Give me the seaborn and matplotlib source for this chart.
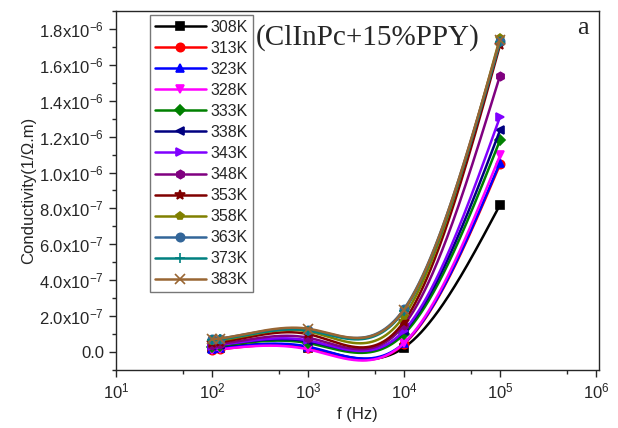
import numpy as np
import pandas as pd
import matplotlib
matplotlib.use("Agg")
import matplotlib.pyplot as plt
from matplotlib.lines import Line2D
from matplotlib.ticker import FixedLocator, FuncFormatter, MultipleLocator
import seaborn as sns

# frequencies (Hz)
freq = [100, 120, 1000, 10000, 100000]
temps = ["308K", "313K", "323K", "328K", "333K", "338K", "343K",
         "348K", "353K", "358K", "363K", "373K", "383K"]

# conductivity values, in units of 1e-7 (1/Ohm.m)
s308 = [0.20, 0.25, 0.25, 0.25, 8.20]
s313 = [0.10, 0.15, 0.20, 0.45, 10.45]
s323 = [0.15, 0.20, 0.30, 0.50, 10.55]
s328 = [0.10, 0.15, 0.15, 0.50, 10.95]
s333 = [0.30, 0.35, 0.50, 1.00, 11.80]
s338 = [0.35, 0.40, 0.60, 1.15, 12.35]
s343 = [0.35, 0.40, 0.65, 1.20, 13.10]
s348 = [0.40, 0.45, 0.80, 1.50, 15.40]
s353 = [0.50, 0.55, 1.00, 1.70, 17.10]
s358 = [0.60, 0.65, 1.15, 2.00, 17.50]
s363 = [0.70, 0.75, 1.25, 2.40, 17.30]
s373 = [0.65, 0.70, 1.20, 2.30, 17.25]
s383 = [0.70, 0.75, 1.30, 2.35, 17.40]
series = [s308, s313, s323, s328, s333, s338, s343,
          s348, s353, s358, s363, s373, s383]

colors = ["#000000", "#FF0000", "#0000FF", "#FF00FF", "#008000", "#000080",
          "#8000FF", "#800080", "#800000", "#808000", "#336699", "#008080", "#996633"]
markers = ["s", "o", "^", "v", "D", "<", ">", "h", "*", "p", "o", "+", "x"]
msizes = [6, 6, 6, 6, 5, 6, 6, 6, 7, 6, 6, 7, 7]


def natural_spline(x, y, n=300):
    # natural cubic spline, used only to draw the connecting line
    x = np.asarray(x, float)
    y = np.asarray(y, float)
    k = len(x)
    h = np.diff(x)
    A = np.zeros((k, k))
    b = np.zeros(k)
    A[0, 0] = A[-1, -1] = 1
    for i in range(1, k - 1):
        A[i, i - 1] = h[i - 1]
        A[i, i] = 2 * (h[i - 1] + h[i])
        A[i, i + 1] = h[i]
        b[i] = 6 * ((y[i + 1] - y[i]) / h[i] - (y[i] - y[i - 1]) / h[i - 1])
    M = np.linalg.solve(A, b)
    xs = np.linspace(x[0], x[-1], n)
    ys = np.empty_like(xs)
    for j, t in enumerate(xs):
        i = min(np.searchsorted(x, t, side="right") - 1, k - 2)
        a, c = x[i], x[i + 1]
        hh = c - a
        ys[j] = (M[i] * (c - t) ** 3 / (6 * hh) + M[i + 1] * (t - a) ** 3 / (6 * hh)
                 + (y[i] / hh - M[i] * hh / 6) * (c - t)
                 + (y[i + 1] / hh - M[i + 1] * hh / 6) * (t - a))
    return xs, ys


sns.set_style("ticks")
plt.rcParams["font.family"] = ["Liberation Sans", "DejaVu Sans"]
plt.rcParams["mathtext.fontset"] = "custom"
plt.rcParams["mathtext.rm"] = "Liberation Sans"
plt.rcParams["mathtext.it"] = "Liberation Sans:italic"

fig = plt.figure(figsize=(6.18, 4.28), dpi=100)
ax = fig.add_axes([0.1877, 0.1355, 0.7816, 0.839])

logf = np.log10(freq)
handles = []
for name, vals, c, m, ms in zip(temps, series, colors, markers, msizes):
    yv = np.array(vals) * 1e-7
    xs, ys = natural_spline(logf, yv)
    df = pd.DataFrame({"f": 10 ** xs, "sigma": ys})
    sns.lineplot(data=df, x="f", y="sigma", color=c, lw=1.8, ax=ax, sort=False)
    ax.plot(freq, yv, ls="none", marker=m, color=c, ms=ms, mew=1.2)
    handles.append(Line2D([], [], color=c, lw=1.8, marker=m, ms=ms, mew=1.2, label=name))

ax.set_xscale("log")
ax.set_xlim(10, 1.075e6)
ax.set_ylim(-1e-7, 1.9e-6)
ax.xaxis.set_major_locator(FixedLocator([10 ** k for k in range(1, 7)]))
ax.xaxis.set_minor_locator(FixedLocator([5 * 10 ** k for k in range(1, 6)]))
ax.xaxis.set_major_formatter(FuncFormatter(lambda v, p: r"10$^{%d}$" % round(np.log10(v))))
ax.yaxis.set_major_locator(MultipleLocator(2e-7))
ax.yaxis.set_minor_locator(MultipleLocator(1e-7))


def yfmt(v, p):
    if abs(v) < 1e-12:
        return "0.0"
    e = int(np.floor(np.log10(abs(v))))
    return r"%.1fx10$^{%d}$" % (v / 10 ** e, e)


ax.yaxis.set_major_formatter(FuncFormatter(yfmt))
ax.tick_params(which="both", direction="out", top=False, right=False, labelsize=12, width=1)
ax.tick_params(which="major", length=5)
ax.tick_params(which="minor", length=3)
for s in ax.spines.values():
    s.set_linewidth(1.0)

ax.set_xlabel("f (Hz)", fontsize=12)
ax.set_ylabel("Conductivity(1/\u03a9.m)", fontsize=12, labelpad=2)

leg = ax.legend(handles=handles, loc="upper left", bbox_to_anchor=(0.07, 0.989),
                fontsize=11.5, frameon=True, fancybox=False, edgecolor="#555555",
                labelspacing=0.38, handlelength=3.2, handletextpad=0.3,
                borderpad=0.3, borderaxespad=0.0)
leg.get_frame().set_linewidth(1.0)

ax.text(0.29, 0.905, "(ClInPc+15%PPY)", transform=ax.transAxes, fontsize=21,
        family=["Liberation Serif", "DejaVu Serif"])
ax.text(0.954, 0.936, "a", transform=ax.transAxes, fontsize=19,
        family=["Liberation Serif", "DejaVu Serif"])

fig.savefig("out.png", dpi=100)
